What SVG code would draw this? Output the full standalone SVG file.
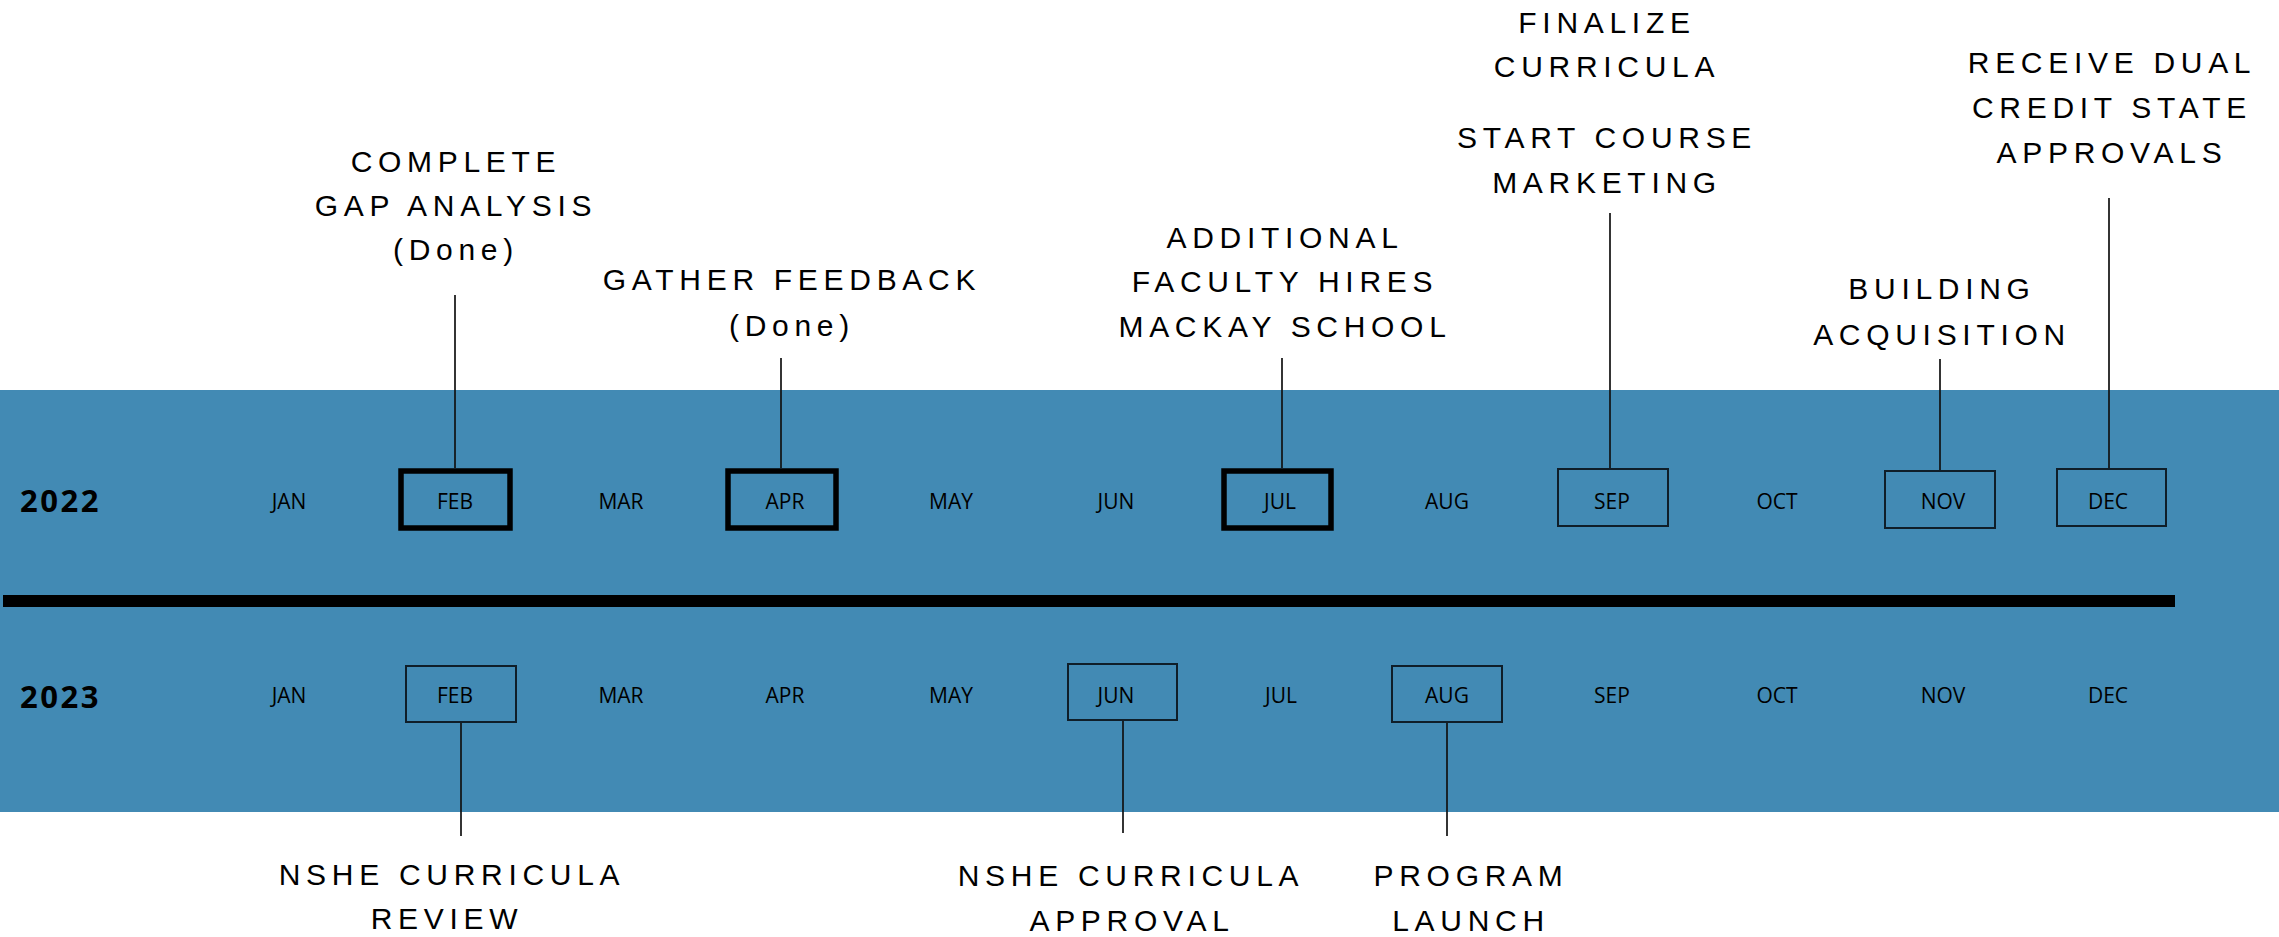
<svg xmlns="http://www.w3.org/2000/svg" width="2279" height="937" viewBox="0 0 2279 937">
<style>
.bg{fill:#ffffff}
.band{fill:#428ab4}
.divider{fill:#000}
.year{font-family:"Open Sans","Liberation Sans",sans-serif;font-weight:700;font-size:31px;letter-spacing:2.5px;fill:#000}
.mon{font-family:"Open Sans","Liberation Sans",sans-serif;font-size:21px;fill:#000;text-anchor:middle}
.box{fill:none;stroke:#0f1e29;stroke-width:2}
.done{fill:none;stroke:#000;stroke-width:5.5}
.lbl{font-family:"Liberation Sans",Arial,sans-serif;font-size:30px;letter-spacing:5.7px;text-anchor:middle;fill:#000}
#connectors line{stroke:#111;stroke-width:1.7}
</style>
<rect class="bg" x="0" y="0" width="2279" height="937"/>
<rect class="band" x="0" y="390" width="2279" height="422"/>
<rect class="divider" x="3" y="595" width="2172" height="12"/>

<g id="year-2022"><text class="year" x="20" y="512">2022</text></g>
<g id="year-2023"><text class="year" x="20" y="708">2023</text></g>

<g id="months-2022">
<text class="mon" x="289" y="509">JAN</text>
<text class="mon" x="621" y="509">MAR</text>
<text class="mon" x="951" y="509">MAY</text>
<text class="mon" x="1116" y="509">JUN</text>
<text class="mon" x="1447" y="509">AUG</text>
<text class="mon" x="1777" y="509">OCT</text>
</g>
<g id="months-2023">
<text class="mon" x="289" y="703">JAN</text>
<text class="mon" x="621" y="703">MAR</text>
<text class="mon" x="785" y="703">APR</text>
<text class="mon" x="951" y="703">MAY</text>
<text class="mon" x="1281" y="703">JUL</text>
<text class="mon" x="1612" y="703">SEP</text>
<text class="mon" x="1777" y="703">OCT</text>
<text class="mon" x="1943" y="703">NOV</text>
<text class="mon" x="2108" y="703">DEC</text>
</g>

<g id="feb-2022">
<rect class="done" x="401" y="471" width="109" height="57"/>
<text class="mon" x="455" y="509">FEB</text>
<text class="lbl" x="456" y="172">COMPLETE</text>
<text class="lbl" x="456" y="216">GAP ANALYSIS</text>
<text class="lbl" x="456" y="260">(Done)</text>
</g>
<g id="apr-2022">
<rect class="done" x="728" y="471" width="108" height="57"/>
<text class="mon" x="785" y="509">APR</text>
<text class="lbl" x="792" y="290">GATHER FEEDBACK</text>
<text class="lbl" x="792" y="336">(Done)</text>
</g>
<g id="jul-2022">
<rect class="done" x="1224" y="471" width="107" height="57"/>
<text class="mon" x="1280" y="509">JUL</text>
<text class="lbl" x="1285" y="248">ADDITIONAL</text>
<text class="lbl" x="1285" y="292">FACULTY HIRES</text>
<text class="lbl" x="1285" y="337">MACKAY SCHOOL</text>
</g>
<g id="sep-2022">
<rect class="box" x="1558" y="469" width="110" height="57"/>
<text class="mon" x="1612" y="509">SEP</text>
<text class="lbl" x="1607" y="33">FINALIZE</text>
<text class="lbl" x="1607" y="77">CURRICULA</text>
<text class="lbl" x="1607" y="148">START COURSE</text>
<text class="lbl" x="1607" y="193">MARKETING</text>
</g>
<g id="nov-2022">
<rect class="box" x="1885" y="471" width="110" height="57"/>
<text class="mon" x="1943" y="509">NOV</text>
<text class="lbl" x="1942" y="299">BUILDING</text>
<text class="lbl" x="1942" y="345">ACQUISITION</text>
</g>
<g id="dec-2022">
<rect class="box" x="2057" y="469" width="109" height="57"/>
<text class="mon" x="2108" y="509">DEC</text>
<text class="lbl" x="2112" y="73">RECEIVE DUAL</text>
<text class="lbl" x="2112" y="118">CREDIT STATE</text>
<text class="lbl" x="2112" y="163">APPROVALS</text>
</g>

<g id="feb-2023">
<rect class="box" x="406" y="666" width="110" height="56"/>
<text class="mon" x="455" y="703">FEB</text>
<text class="lbl" x="452" y="885">NSHE CURRICULA</text>
<text class="lbl" x="447" y="929">REVIEW</text>
</g>
<g id="jun-2023">
<rect class="box" x="1068" y="664" width="109" height="56"/>
<text class="mon" x="1116" y="703">JUN</text>
<text class="lbl" x="1131" y="886">NSHE CURRICULA</text>
<text class="lbl" x="1132" y="931">APPROVAL</text>
</g>
<g id="aug-2023">
<rect class="box" x="1392" y="666" width="110" height="56"/>
<text class="mon" x="1447" y="703">AUG</text>
<text class="lbl" x="1471" y="886">PROGRAM</text>
<text class="lbl" x="1471" y="931">LAUNCH</text>
</g>

<g id="connectors">
<line x1="455" y1="295" x2="455" y2="468"/>
<line x1="781" y1="358" x2="781" y2="468"/>
<line x1="1282" y1="358" x2="1282" y2="468"/>
<line x1="1610" y1="213" x2="1610" y2="468"/>
<line x1="1940" y1="359" x2="1940" y2="470"/>
<line x1="2109" y1="198" x2="2109" y2="468"/>
<line x1="461" y1="723" x2="461" y2="836"/>
<line x1="1123" y1="721" x2="1123" y2="833"/>
<line x1="1447" y1="723" x2="1447" y2="836"/>
</g>
</svg>
